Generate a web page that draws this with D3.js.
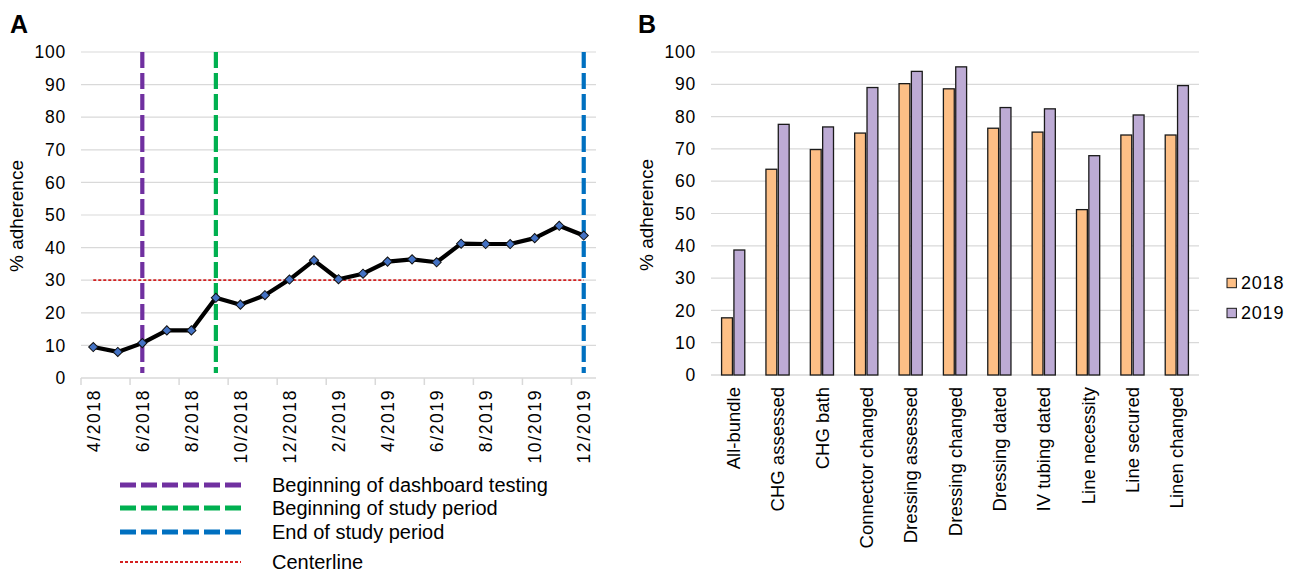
<!DOCTYPE html>
<html>
<head>
<meta charset="utf-8">
<script src="https://cdn.jsdelivr.net/npm/d3@7"></script>
<style>
  body { margin: 0; background: #fff; }
  svg { font-family: "Liberation Sans", Arial, sans-serif; }
</style>
</head>
<body>
<svg id="chart" width="1294" height="573"></svg>
<script>
// panel A: monthly all-bundle adherence
var months = ['4/2018','5/2018','6/2018','7/2018','8/2018','9/2018','10/2018','11/2018','12/2018',
              '1/2019','2/2019','3/2019','4/2019','5/2019','6/2019','7/2019','8/2019','9/2019',
              '10/2019','11/2019','12/2019'];
var adherence = [9.5, 8.0, 10.7, 14.6, 14.6, 24.6, 22.5, 25.4, 30.2, 36.1, 30.3,
                 32.0, 35.7, 36.4, 35.5, 41.2, 41.1, 41.1, 42.9, 46.7, 43.7];
var centerline = 30;
var markers = [
  {month: '6/2018', label: 'Beginning of dashboard testing', color: '#7030a0'},
  {month: '9/2018', label: 'Beginning of study period', color: '#00b050'},
  {month: '12/2019', label: 'End of study period', color: '#0070c0'}
];

// panel B: bundle elements by year
var elements = ['All-bundle','CHG assessed','CHG bath','Connector changed','Dressing assessed',
                'Dressing changed','Dressing dated','IV tubing dated','Line necessity',
                'Line secured','Linen changed'];
var years = ['2018', '2019'];
var values2018 = [17.7, 63.7, 69.8, 74.9, 90.2, 88.6, 76.4, 75.2, 51.2, 74.3, 74.3];
var values2019 = [38.7, 77.6, 76.8, 89.0, 94.0, 95.4, 82.8, 82.4, 67.9, 80.5, 89.6];
var yearColors = ['#fdbf86', '#bdabd5'];

var yTicks = d3.range(0, 101, 10);

var svg = d3.select('#chart');
var grid = '#d9d9d9';
var ink = '#000';

// ---------- panel A ----------
var gA = svg.append('g');
var xA = d3.scaleBand().domain(months).range([81, 596]);
var yA = d3.scaleLinear().domain([0, 100]).range([378, 52]);
var cx = function(m) { return xA(m) + xA.bandwidth() / 2; };

gA.append('text').attr('x', 10).attr('y', 33)
  .style('font-size', '25px').style('font-weight', 'bold').text('A');

gA.selectAll('.grid').data(yTicks.filter(function(d) { return d > 0; }))
  .enter().append('line')
  .attr('x1', 81).attr('x2', 596)
  .attr('y1', function(d) { return yA(d); }).attr('y2', function(d) { return yA(d); })
  .attr('stroke', grid).attr('stroke-width', 1.2);

gA.append('g')
  .attr('transform', 'translate(81,0)')
  .call(d3.axisLeft(yA).tickValues(yTicks).tickSize(0).tickPadding(15))
  .call(function(g) { g.select('.domain').remove(); })
  .selectAll('text')
  .style('font-size', '17.5px').style('letter-spacing', '0.8px').attr('fill', ink)
  .attr('font-family', null);

gA.append('text')
  .attr('transform', 'translate(23,216) rotate(-90)')
  .attr('text-anchor', 'middle').style('font-size', '19px').attr('fill', ink)
  .text('% adherence');

// x axis: labels every other month, ticks at band edges
var labelMonths = months.filter(function(d, i) { return i % 2 === 0; });
var axA = gA.append('g').attr('transform', 'translate(0,378)');
axA.append('line').attr('x1', 81).attr('x2', 596).attr('stroke', grid).attr('stroke-width', 1.5);
axA.selectAll('.tk').data(labelMonths).enter().append('line')
  .attr('x1', function(d) { return xA(d); }).attr('x2', function(d) { return xA(d); })
  .attr('y1', 0).attr('y2', 7).attr('stroke', grid).attr('stroke-width', 1.5);
axA.selectAll('.lbl').data(labelMonths).enter().append('text')
  .attr('transform', function(d) { return 'translate(' + cx(d) + ',11) rotate(-90)'; })
  .attr('text-anchor', 'end').attr('dy', '0.36em')
  .style('font-size', '17.5px').style('letter-spacing', '1.6px').attr('fill', ink)
  .text(function(d) { return d; });

// vertical event lines
gA.selectAll('.ev').data(markers).enter().append('line')
  .attr('x1', function(d) { return cx(d.month); }).attr('x2', function(d) { return cx(d.month); })
  .attr('y1', yA(100)).attr('y2', yA(1.5))
  .attr('stroke', function(d) { return d.color; })
  .attr('stroke-width', 4.2).attr('stroke-dasharray', '16,5');

// centerline
gA.append('line')
  .attr('x1', cx(months[0])).attr('x2', cx(months[months.length - 1]))
  .attr('y1', yA(centerline)).attr('y2', yA(centerline))
  .attr('stroke', '#d42020').attr('stroke-width', 1.8).attr('stroke-dasharray', '3,2');

// data line
var series = months.map(function(m, i) { return {month: m, value: adherence[i]}; });
gA.append('path').datum(series)
  .attr('fill', 'none').attr('stroke', '#000').attr('stroke-width', 4.2)
  .attr('stroke-linejoin', 'round')
  .attr('d', d3.line().x(function(d) { return cx(d.month); }).y(function(d) { return yA(d.value); }));
gA.selectAll('.pt').data(series).enter().append('path')
  .attr('transform', function(d) { return 'translate(' + cx(d.month) + ',' + yA(d.value) + ') rotate(45)'; })
  .attr('d', d3.symbol(d3.symbolSquare, 42))
  .attr('fill', '#4472c4').attr('stroke', '#111').attr('stroke-width', 1);

// legend A
var legA = markers.map(function(d) { return {label: d.label, color: d.color, dash: '16,5', w: 5}; })
  .concat([{label: 'Centerline', color: '#d42020', dash: '3,2', w: 1.8}]);
var legY = [485, 508, 532, 562];
var lg = gA.selectAll('.lg').data(legA).enter().append('g')
  .attr('transform', function(d, i) { return 'translate(0,' + legY[i] + ')'; });
lg.append('line').attr('x1', 120).attr('x2', 241)
  .attr('stroke', function(d) { return d.color; })
  .attr('stroke-width', function(d) { return d.w; })
  .attr('stroke-dasharray', function(d) { return d.dash; });
lg.append('text').attr('x', 272).attr('dy', '0.35em')
  .style('font-size', '20px').attr('fill', ink)
  .text(function(d) { return d.label; });

// ---------- panel B ----------
var gB = svg.append('g');
var xB = d3.scaleBand().domain(elements).range([711, 1199]);
var yB = d3.scaleLinear().domain([0, 100]).range([375, 52]);
var half = xB.bandwidth() / 2;
var xY = d3.scaleBand().domain(years).range([half - 11.6, half + 11.6]).paddingInner(0.12);

gB.append('text').attr('x', 638).attr('y', 33)
  .style('font-size', '25px').style('font-weight', 'bold').text('B');

gB.selectAll('.grid').data(yTicks)
  .enter().append('line')
  .attr('x1', 711).attr('x2', 1199)
  .attr('y1', function(d) { return yB(d); }).attr('y2', function(d) { return yB(d); })
  .attr('stroke', grid).attr('stroke-width', function(d) { return d === 0 ? 1.5 : 1.2; });

gB.append('g')
  .attr('transform', 'translate(711,0)')
  .call(d3.axisLeft(yB).tickValues(yTicks).tickSize(0).tickPadding(15))
  .call(function(g) { g.select('.domain').remove(); })
  .selectAll('text')
  .style('font-size', '17.5px').style('letter-spacing', '0.8px').attr('fill', ink)
  .attr('font-family', null);

gB.append('text')
  .attr('transform', 'translate(653,215) rotate(-90)')
  .attr('text-anchor', 'middle').style('font-size', '19px').attr('fill', ink)
  .text('% adherence');

var rows = elements.map(function(e, i) {
  return {name: e, vals: [{year: '2018', v: values2018[i], c: yearColors[0]},
                          {year: '2019', v: values2019[i], c: yearColors[1]}]};
});
var grp = gB.selectAll('.grp').data(rows).enter().append('g')
  .attr('transform', function(d) { return 'translate(' + xB(d.name) + ',0)'; });
grp.selectAll('rect').data(function(d) { return d.vals; }).enter().append('rect')
  .attr('x', function(d) { return xY(d.year); })
  .attr('width', xY.bandwidth())
  .attr('y', function(d) { return yB(d.v); })
  .attr('height', function(d) { return yB(0) - yB(d.v); })
  .attr('fill', function(d) { return d.c; })
  .attr('stroke', '#1a1a1a').attr('stroke-width', 1.3);

gB.selectAll('.cat').data(elements).enter().append('text')
  .attr('transform', function(d) { return 'translate(' + (xB(d) + half) + ',387) rotate(-90)'; })
  .attr('text-anchor', 'end').attr('dy', '0.36em')
  .style('font-size', '18.5px').attr('fill', ink)
  .text(function(d) { return d; });

// legend B
var lgB = gB.selectAll('.lgb').data(years).enter().append('g')
  .attr('transform', function(d, i) { return 'translate(1227,' + (283 + i * 30) + ')'; });
lgB.append('rect').attr('x', 0).attr('y', -4.7).attr('width', 9.4).attr('height', 9.4)
  .attr('fill', function(d, i) { return yearColors[i]; })
  .attr('stroke', '#1a1a1a').attr('stroke-width', 1);
lgB.append('text').attr('x', 14).attr('dy', '0.36em')
  .style('font-size', '18px').style('letter-spacing', '0.8px').attr('fill', ink)
  .text(function(d) { return d; });
</script>
</body>
</html>
